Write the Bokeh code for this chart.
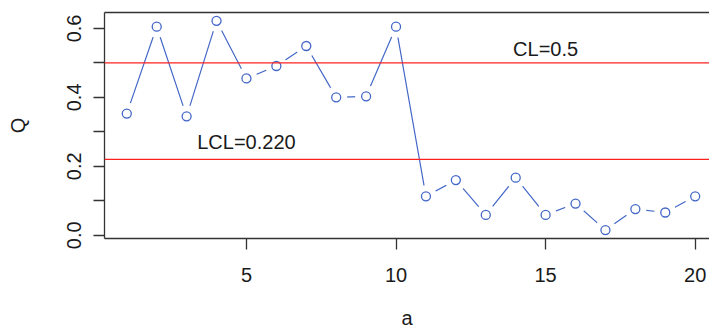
from bokeh.plotting import figure
from bokeh.models import Range1d, FixedTicker, LinearAxis, Span, Label
from bokeh.embed import file_html
from bokeh.resources import INLINE

# data
a = list(range(1, 21))
Q = [0.353, 0.605, 0.345, 0.622, 0.455, 0.491, 0.549, 0.400, 0.403, 0.605,
     0.113, 0.160, 0.059, 0.167, 0.059, 0.092, 0.015, 0.076, 0.066, 0.113]
CL = 0.5
LCL = 0.220
x_ticks = [5, 10, 15, 20]
y_ticks = [0.0, 0.2, 0.4, 0.6]
y_minor = [0.1, 0.3, 0.5]
y_tick_labels = {0.0: "0.0", 0.2: "0.2", 0.4: "0.4", 0.6: "0.6"}
x_label = "a"
y_label = "Q"

FONT = "Liberation Sans"
BLUE = "#4468C8"
AXC = "#333333"
TXT = "#1a1a1a"

p = figure(width=709, height=332, output_backend="svg", toolbar_location=None,
           x_range=Range1d(0.255, 20.478), y_range=Range1d(-0.0094, 0.6462),
           min_border_left=104, min_border_right=0, min_border_top=12,
           min_border_bottom=94, x_axis_label=x_label, y_axis_label=y_label)
p.outline_line_color = None
p.grid.visible = False
p.background_fill_color = "white"
p.border_fill_color = "white"

# axes styling
xa = p.xaxis[0]
xa.ticker = FixedTicker(ticks=x_ticks)
ya = p.yaxis[0]
ya.ticker = FixedTicker(ticks=y_ticks, minor_ticks=y_minor)
ya.major_label_overrides = y_tick_labels
ya.major_label_orientation = "vertical"
for ax in (xa, ya):
    ax.axis_line_color = AXC
    ax.axis_line_width = 1.3
    ax.major_tick_line_color = AXC
    ax.major_tick_line_width = 1.3
    ax.minor_tick_line_color = AXC
    ax.minor_tick_line_width = 1.3
    ax.major_tick_in = 0
    ax.major_tick_out = 11
    ax.minor_tick_in = 0
    ax.minor_tick_out = 11
    ax.major_label_text_font = FONT
    ax.major_label_text_font_size = "20px"
    ax.major_label_text_color = TXT
    ax.axis_label_text_font = FONT
    ax.axis_label_text_font_size = "20px"
    ax.axis_label_text_font_style = "normal"
    ax.axis_label_text_color = TXT
xa.minor_tick_line_color = None
xa.major_label_standoff = 18
xa.axis_label_standoff = 22
ya.major_label_standoff = 12
ya.axis_label_standoff = 36

# top border
top = LinearAxis(ticker=FixedTicker(ticks=[]), axis_line_color=AXC, axis_line_width=1.3,
                 major_tick_out=0, minor_tick_out=0, major_label_text_font_size="0px")
p.add_layout(top, "above")

# series: line with gaps around points (type="b")
p.line(a, Q, line_color=BLUE, line_width=1.2)
p.scatter(a, Q, size=22, fill_color="white", line_color=None)
p.scatter(a, Q, size=9, marker="circle", fill_color=None, line_color=BLUE, line_width=1.3)

# control lines
p.add_layout(Span(location=CL, dimension="width", line_color="#FF2020", line_width=1.3))
p.add_layout(Span(location=LCL, dimension="width", line_color="#FF2020", line_width=1.3))

p.add_layout(Label(x=15, y=0.541, text="CL=0.5", text_font=FONT, text_font_size="20px",
                   text_align="center", text_baseline="middle", text_color=TXT))
p.add_layout(Label(x=5, y=0.271, text="LCL=0.220", text_font=FONT, text_font_size="20px",
                   text_align="center", text_baseline="middle", text_color=TXT))

open("out.html", "w").write(file_html(p, INLINE))
